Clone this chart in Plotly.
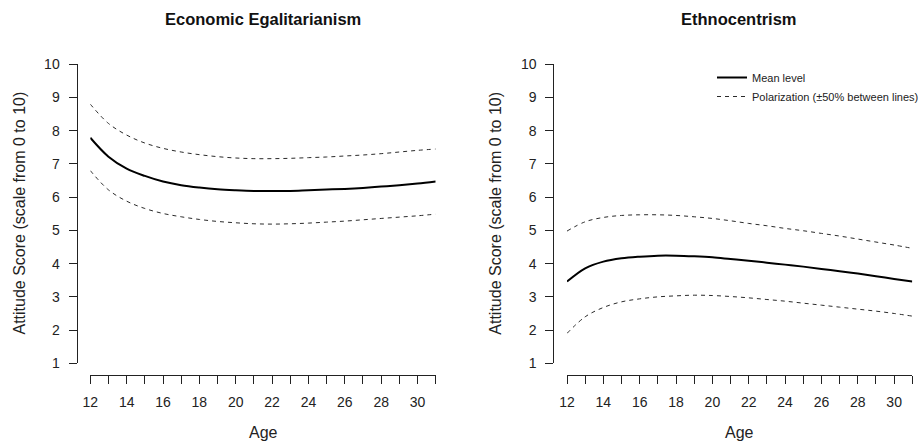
import plotly.graph_objects as go

# ---------------- data ----------------
ages = [12, 13, 14, 15, 16, 17, 18, 19, 20, 21, 22, 23, 24, 25, 26, 27, 28, 29, 30, 31]

econ_mean = [7.79, 7.22, 6.86, 6.64, 6.47, 6.36, 6.29, 6.24, 6.21, 6.19,
             6.19, 6.19, 6.21, 6.23, 6.25, 6.28, 6.32, 6.36, 6.41, 6.47]
econ_upper = [8.80, 8.22, 7.87, 7.63, 7.47, 7.36, 7.28, 7.22, 7.18, 7.16,
              7.16, 7.17, 7.19, 7.21, 7.24, 7.27, 7.31, 7.36, 7.41, 7.45]
econ_lower = [6.80, 6.22, 5.88, 5.66, 5.51, 5.41, 5.33, 5.27, 5.23, 5.20,
              5.19, 5.20, 5.22, 5.25, 5.28, 5.32, 5.36, 5.40, 5.44, 5.49]

ethno_mean = [3.46, 3.86, 4.06, 4.16, 4.21, 4.24, 4.24, 4.22, 4.19, 4.14,
              4.09, 4.03, 3.97, 3.91, 3.84, 3.77, 3.70, 3.62, 3.54, 3.46]
ethno_upper = [4.98, 5.26, 5.39, 5.45, 5.47, 5.47, 5.45, 5.41, 5.36, 5.29,
               5.21, 5.14, 5.06, 4.99, 4.91, 4.83, 4.74, 4.65, 4.56, 4.46]
ethno_lower = [1.90, 2.40, 2.68, 2.85, 2.94, 3.00, 3.03, 3.05, 3.04, 3.01,
               2.97, 2.92, 2.87, 2.81, 2.75, 2.69, 2.63, 2.57, 2.50, 2.42]

x_tick_vals = [12, 13, 14, 15, 16, 17, 18, 19, 20, 21, 22, 23, 24, 25, 26, 27, 28, 29, 30, 31]
x_tick_text = ["12", "", "14", "", "16", "", "18", "", "20", "", "22", "", "24", "",
               "26", "", "28", "", "30", ""]
y_tick_vals = [1, 2, 3, 4, 5, 6, 7, 8, 9, 10]
y_tick_text = ["1", "2", "3", "4", "5", "6", "7", "8", "9", "10"]

panel_titles = ["Economic Egalitarianism", "Ethnocentrism"]
x_title = "Age"
y_title = "Attitude Score (scale from 0 to 10)"
legend_names = ["Mean level", "Polarization (\u00b150% between lines)"]

# ---------------- layout helpers ----------------
W, H = 921, 442
FONT = "Liberation Sans, Arial, Helvetica, sans-serif"


def fx(p):
    return p / W


def fy(p):
    return 1 - p / H


mean_line = dict(color="black", width=2, shape="spline", smoothing=1.0)
dash_line = dict(color="#2a2a2a", width=1, dash="4px,4px", shape="spline", smoothing=1.0)

fig = go.Figure()

# left panel
fig.add_trace(go.Scatter(x=ages, y=econ_upper, mode="lines", line=dash_line,
                         xaxis="x", yaxis="y", showlegend=False, hoverinfo="skip"))
fig.add_trace(go.Scatter(x=ages, y=econ_lower, mode="lines", line=dash_line,
                         xaxis="x", yaxis="y", showlegend=False, hoverinfo="skip"))
fig.add_trace(go.Scatter(x=ages, y=econ_mean, mode="lines", line=mean_line,
                         xaxis="x", yaxis="y", showlegend=False))

# right panel
fig.add_trace(go.Scatter(x=ages, y=ethno_mean, mode="lines", line=mean_line,
                         xaxis="x2", yaxis="y2", name=legend_names[0], showlegend=True))
fig.add_trace(go.Scatter(x=ages, y=ethno_upper, mode="lines", line=dash_line,
                         xaxis="x2", yaxis="y2", name=legend_names[1], showlegend=True,
                         hoverinfo="skip"))
fig.add_trace(go.Scatter(x=ages, y=ethno_lower, mode="lines", line=dash_line,
                         xaxis="x2", yaxis="y2", showlegend=False, hoverinfo="skip"))

tick_font = dict(family=FONT, size=14, color="#222")

common_x = dict(range=[12, 31], tickmode="array", tickvals=x_tick_vals, ticktext=x_tick_text,
                showline=True, linecolor="#222", linewidth=1, ticks="outside", ticklen=8,
                tickcolor="#222", tickwidth=1, showgrid=False, zeroline=False,
                tickfont=tick_font, ticklabelstandoff=6, anchor="free",
                position=fy(375), fixedrange=True, automargin=False)
common_y = dict(range=[1, 10], tickmode="array", tickvals=y_tick_vals, ticktext=y_tick_text,
                showline=True, linecolor="#222", linewidth=1, ticks="outside", ticklen=8,
                tickcolor="#222", tickwidth=1, showgrid=False, zeroline=False,
                tickfont=tick_font, ticklabelstandoff=6, anchor="free",
                domain=[fy(363.3), fy(64.3)], fixedrange=True, automargin=False)

fig.update_layout(
    width=W, height=H,
    margin=dict(l=0, r=0, t=0, b=0, pad=0, autoexpand=False),
    paper_bgcolor="white", plot_bgcolor="white",
    font=dict(family=FONT, color="#222"),
    xaxis=dict(common_x, domain=[fx(90.3), fx(435.7)]),
    yaxis=dict(common_y, position=fx(76.5)),
    xaxis2=dict(common_x, domain=[fx(567), fx(912.3)]),
    yaxis2=dict(common_y, position=fx(553.3)),
    legend=dict(x=fx(712), y=fy(63), xanchor="left", yanchor="top",
                font=dict(family=FONT, size=11, color="#222"),
                bgcolor="rgba(0,0,0,0)", borderwidth=0, tracegroupgap=0),
    showlegend=True,
)

annotations = []
for title, cx, ycx in [(panel_titles[0], 263.3, 18.5), (panel_titles[1], 739.3, 494.7)]:
    annotations.append(dict(text="<b>" + title + "</b>", x=fx(cx), y=fy(19), xref="paper",
                            yref="paper", xanchor="center", yanchor="middle", showarrow=False,
                            font=dict(family=FONT, size=16.5, color="#111")))
    annotations.append(dict(text=x_title, x=fx(cx), y=fy(432), xref="paper", yref="paper",
                            xanchor="center", yanchor="middle", showarrow=False,
                            font=dict(family=FONT, size=16, color="#222")))
    annotations.append(dict(text=y_title, x=fx(ycx), y=fy(213), xref="paper", yref="paper",
                            xanchor="center", yanchor="middle", showarrow=False, textangle=-90,
                            font=dict(family=FONT, size=16, color="#222")))
fig.update_layout(annotations=annotations)

fig.write_html("out.html", config={"displayModeBar": False},
               post_script="document.body.style.margin='0';document.body.style.overflow='hidden';")
